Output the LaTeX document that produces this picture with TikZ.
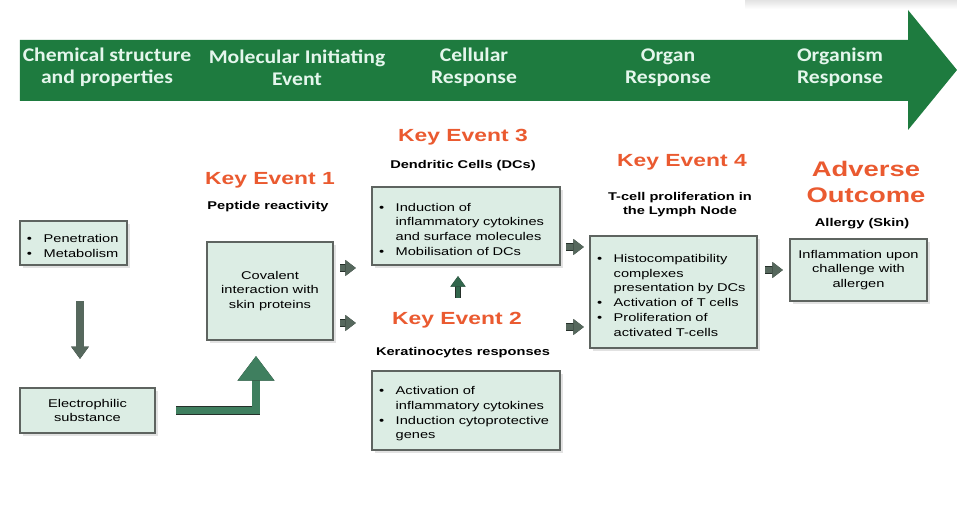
\documentclass[tikz,border=0pt]{standalone}
\usepackage{fontspec}
\setmainfont{Liberation Sans}[FakeStretch=1.3]
\newfontfamily\headfont{Carlito}[FakeStretch=1.12]
\usepackage{xcolor}
\usepackage{tikz}
\usetikzlibrary{arrows.meta,shadows}
\definecolor{bandgreen}{HTML}{1E7B3F}
\definecolor{headtext}{HTML}{E4F6EC}
\definecolor{boxfill}{HTML}{DCEDE4}
\definecolor{boxline}{HTML}{5E6460}
\definecolor{kered}{HTML}{EA5A30}
\definecolor{arrgray}{HTML}{56685D}
\definecolor{arrgreen}{HTML}{3F7F5F}
\definecolor{arrdark}{HTML}{26302A}
\newcommand{\kitem}[1]{\par\noindent\makebox[9.5pt][l]{\textbullet}%
  \parbox[t]{\dimexpr\linewidth-9.5pt\relax}{\raggedright #1\par\xdef\kdepth{\the\prevdepth}}%
  \par\prevdepth=\kdepth\relax}

\begin{document}
\begin{tikzpicture}[
    evbox/.style={draw=boxline, line width=1.3pt, fill=boxfill, inner sep=4pt,
        drop shadow={shadow xshift=1.5pt, shadow yshift=-1.5pt, fill=gray!45},
        font=\fontsize{6.4}{8.4}\selectfont},
    evtitle/.style={text=kered, font=\bfseries\fontsize{10}{12}\selectfont, align=center},
    evsub/.style={font=\bfseries\fontsize{6.4}{8}\selectfont, align=center},
    headlbl/.style={text=headtext, font=\headfont\bfseries\fontsize{11}{12.5}\selectfont, align=center},
    smallarr/.style={line width=3pt, draw=arrgray, -{Triangle[width=9pt,length=6pt,line width=0pt]},
        preaction={draw=arrdark, line width=4pt, -{Triangle[width=9pt,length=6pt,line width=1pt]}}},
    uparr/.style={line width=2.8pt, draw=arrgreen!80!black, -{Triangle[width=8.5pt,length=6pt,line width=0pt]},
        preaction={draw=arrdark, line width=3.8pt, -{Triangle[width=8.5pt,length=6pt,line width=1pt]}}},
    downarr/.style={line width=4pt, draw=arrgray, -{Triangle[width=10pt,length=7pt,line width=0pt]},
        preaction={draw=arrdark, line width=5pt, -{Triangle[width=10pt,length=7pt,line width=1pt]}}},
    bigarr/.style={line width=4pt, draw=arrgreen, line join=miter, -{Triangle[width=21pt,length=14pt,line width=0pt]},
        preaction={draw=arrdark, line width=5pt, line join=miter, -{Triangle[width=21pt,length=14pt,line width=1pt]}}}
]
    \useasboundingbox (0,0) rectangle (19.14,10.48);

    % ========== Pasek naglowka (zielona strzalka) ==========
    \shade[top color=gray!22, bottom color=white] (14.9,10.3) rectangle (19.14,10.48);
    \fill[bandgreen] (0.4,8.46) -- (0.4,9.68) -- (18.16,9.68) -- (18.16,10.28)
        -- (19.14,9.08) -- (18.16,7.88) -- (18.16,8.46) -- cycle;
    \node[headlbl] (hchem) at (2.14,9.13) {Chemical structure\\and properties};
    \node[headlbl] (hmie) at (5.94,9.13) {Molecular Initiating\\Event};
    \node[headlbl] (hcell) at (9.48,9.13) {Cellular\\Response};
    \node[headlbl] (horgan) at (13.36,9.13) {Organ\\Response};
    \node[headlbl] (horganism) at (16.8,9.13) {Organism\\Response};

    % ========== Substancja chemiczna ==========
    \node[evbox, text width=1.86cm, minimum height=0.88cm, align=left] (pen) at (1.47,5.62)
        {\kitem{Penetration}\kitem{Metabolism}};
    \node[evbox, minimum width=2.7cm, minimum height=0.9cm, align=center] (elec) at (1.75,2.27)
        {Electrophilic\\substance};

    % ========== Key Event 1 ==========
    \node[evtitle] (ke1t) at (5.4,6.88) {Key Event 1};
    \node[evsub] (ke1s) at (5.36,6.34) {Peptide reactivity};
    \node[evbox, minimum width=2.52cm, minimum height=1.96cm, align=center] (ke1) at (5.4,4.66)
        {Covalent\\interaction with\\skin proteins};

    % ========== Key Event 3 ==========
    \node[evtitle] (ke3t) at (9.26,7.74) {Key Event 3};
    \node[evsub] (ke3s) at (9.26,7.16) {Dendritic Cells (DCs)};
    \node[evbox, text width=3.48cm, minimum height=1.56cm, align=left] (ke3) at (9.32,5.96)
        {\kitem{Induction of\\inflammatory cytokines\\and surface molecules}\kitem{Mobilisation of DCs}};

    % ========== Key Event 2 ==========
    \node[evtitle] (ke2t) at (9.14,4.08) {Key Event 2};
    \node[evsub] (ke2s) at (9.26,3.42) {Keratinocytes responses};
    \node[evbox, text width=3.48cm, minimum height=1.58cm, align=left] (ke2) at (9.32,2.27)
        {\kitem{Activation of\\inflammatory cytokines}\kitem{Induction cytoprotective\\genes}};

    % ========== Key Event 4 ==========
    \node[evtitle] (ke4t) at (13.64,7.24) {Key Event 4};
    \node[evsub] (ke4s) at (13.6,6.38) {T-cell proliferation in\\the Lymph Node};
    \node[evbox, text width=3.06cm, minimum height=2.24cm, align=left] (ke4) at (13.47,4.64)
        {\kitem{Histocompatibility\\complexes\\presentation by DCs}\kitem{Activation of T cells}\kitem{Proliferation of\\activated T-cells}};

    % ========== Adverse Outcome ==========
    \node[evtitle, font=\bfseries\fontsize{12}{14.5}\selectfont] (aot) at (17.32,6.84) {Adverse\\Outcome};
    \node[evsub] (aos) at (17.24,6.0) {Allergy (Skin)};
    \node[evbox, minimum width=2.74cm, minimum height=1.24cm, align=center] (ao) at (17.17,5.08)
        {Inflammation upon\\challenge with\\allergen};

    % ========== Strzalki ==========
    \draw[downarr, shorten <=0.7cm, shorten >=0.56cm] ([xshift=1.3mm]pen.south) -- ([xshift=1.3mm]pen.south |- elec.north);
    \draw[bigarr, shorten <=0.4cm, shorten >=0.3cm] (elec.east) -| ([xshift=-2.8mm]ke1.south);
    \draw[smallarr, shorten <=0.12cm, shorten >=0.3cm] ([yshift=4.6mm]ke1.east) -- ([yshift=4.6mm]ke1.east -| ke3.west);
    \draw[smallarr, shorten <=0.12cm, shorten >=0.3cm] ([yshift=-6.4mm]ke1.east) -- ([yshift=-6.4mm]ke1.east -| ke2.west);
    \draw[uparr, shorten <=1.44cm, shorten >=0.2cm] ([xshift=-1.6mm]ke2.north) -- ([xshift=-1.6mm]ke3.south);
    \draw[smallarr, shorten <=0.1cm, shorten >=0.1cm] ([yshift=9mm]ke4.west -| ke3.east) -- ([yshift=9mm]ke4.west);
    \draw[smallarr, shorten <=0.1cm, shorten >=0.1cm] ([yshift=-7mm]ke4.west -| ke2.east) -- ([yshift=-7mm]ke4.west);
    \draw[smallarr, shorten <=0.14cm, shorten >=0.12cm] (ke4.east |- ao.west) -- (ao.west);
\end{tikzpicture}
\end{document}
